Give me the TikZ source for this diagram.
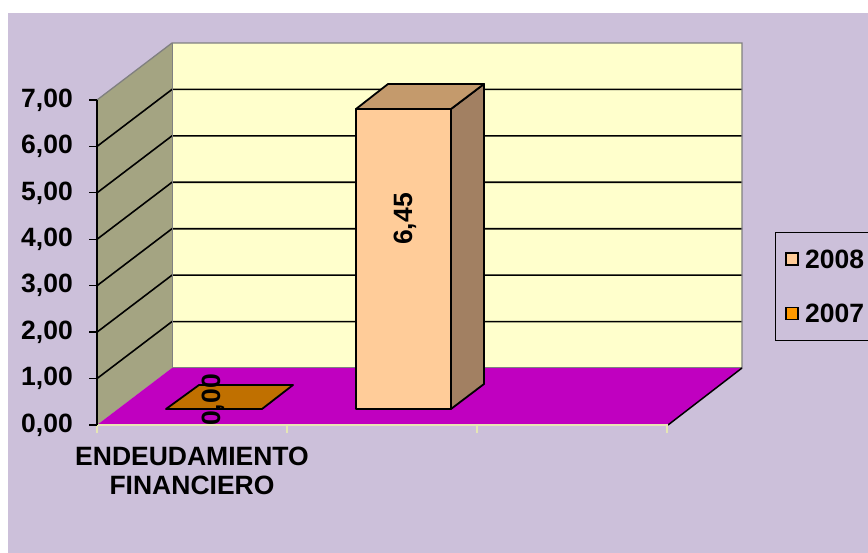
\documentclass[tikz,border=0pt]{standalone}
\usepackage{fontspec}
\setmainfont{Liberation Sans}
\definecolor{bgl}{RGB}{204,192,218}
\definecolor{sidew}{RGB}{164,164,130}
\definecolor{backw}{RGB}{255,255,204}
\definecolor{floorc}{RGB}{192,0,192}
\definecolor{edgey}{RGB}{230,230,180}
\definecolor{b7}{RGB}{192,112,0}
\definecolor{b7l}{RGB}{255,153,0}
\definecolor{b8f}{RGB}{255,204,153}
\definecolor{b8t}{RGB}{196,154,108}
\definecolor{b8s}{RGB}{162,128,98}
\tikzset{
  lbl/.style={inner sep=0pt,font=\fontsize{26.5}{30}\selectfont\bfseries},
  grid/.style={draw=black,line width=1.6pt},
  barline/.style={draw=black,line width=1.8pt,line join=round},
}
\begin{document}
\begin{tikzpicture}[x=1pt,y=-1pt]
\useasboundingbox (0,0) rectangle (868,553);
\fill[white] (0,0) rectangle (868,553);
\fill[bgl] (8,13) rectangle (868,553);
% side wall
\fill[sidew] (97,425) -- (97,100) -- (172,43) -- (172,368) -- cycle;
% back wall
\fill[backw] (172,43) rectangle (742,368);
% gridlines
\foreach \k in {1,...,6}{
  \pgfmathsetmacro{\yf}{425-46.43*\k}
  \pgfmathsetmacro{\yb}{368-46.43*\k}
  \draw[grid] (97,\yf) -- (172,\yb) -- (742,\yb);
}
\draw[gray,line width=1.3pt] (97,100) -- (172,43) -- (742,43) -- (742,368);
\draw[gray,line width=1pt] (172,43) -- (172,368);
% floor
\fill[floorc] (97,425) -- (172,368) -- (742,368) -- (668,425) -- cycle;
\draw[gray,line width=1pt] (172,368) -- (742,368);
\draw[black,line width=1.5pt] (742,368) -- (668,425);
\draw[edgey,line width=1.5pt] (97,425) -- (668,425);
\foreach \x in {97,287,477,667}{
  \draw[edgey,line width=2.5pt] (\x,425) -- (\x,433);
}
% y axis
\draw[black,line width=1.5pt] (97,100) -- (97,425);
\foreach \k/\t in {0/{0,00},1/{1,00},2/{2,00},3/{3,00},4/{4,00},5/{5,00},6/{6,00},7/{7,00}}{
  \pgfmathsetmacro{\yf}{425-46.43*\k}
  \draw[black,line width=1.3pt] (89,\yf) -- (97,\yf);
  \node[lbl,anchor=east] (ylab\k) at (73,\yf) {\t};
}
% bar 2007 (flat)
\path[fill=b7,barline] (166,409) -- (262,409) -- (293,385) -- (199,385) -- cycle;
\node[lbl,rotate=90] (v2007) at (213,400) {0,00};
% bar 2008
\path[fill=b8s,barline] (451,109) -- (484,84) -- (484,384) -- (451,409) -- cycle;
\path[fill=b8t,barline] (356,109) -- (388,84) -- (484,84) -- (451,109) -- cycle;
\path[fill=b8f,barline] (356,109) rectangle (451,409);
\node[lbl,rotate=90] (v2008) at (405,219) {6,45};
% category label
\node[lbl,align=center] (cat) at (192,471) {ENDEUDAMIENTO\\[-1pt]FINANCIERO};
% legend
\draw[black,line width=1pt] (870,233) -- (775,233) -- (775,341) -- (870,341);
\path[fill=b8f,draw=black,line width=1.6pt] (786,253) rectangle (798,265);
\node[lbl,anchor=west] (l2008) at (805,259.5) {2008};
\path[fill=b7l,draw=black,line width=1.6pt] (786,307.5) rectangle (798,319.5);
\node[lbl,anchor=west] (l2007) at (805,313.5) {2007};
\end{tikzpicture}
\end{document}
